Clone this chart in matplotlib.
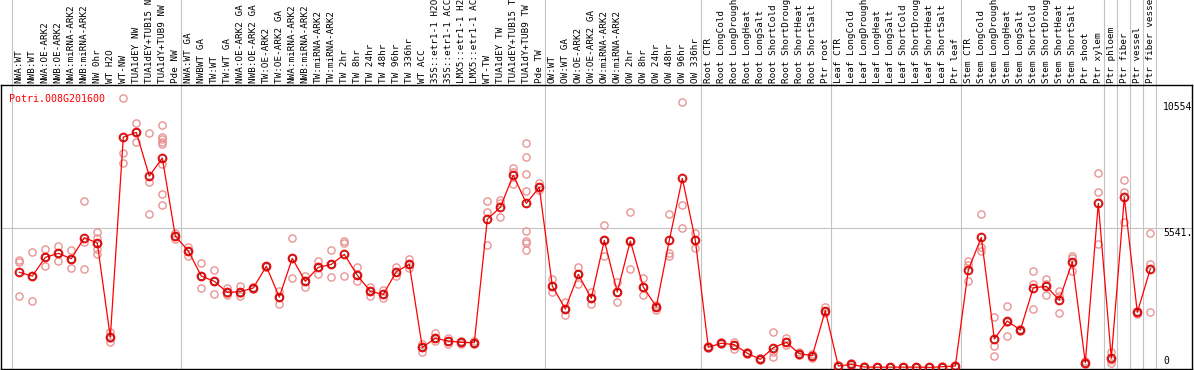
import matplotlib
matplotlib.use("Agg")
import matplotlib.pyplot as plt
import matplotlib.transforms as mtransforms

gene = "Potri.008G201600"

samples = [
    "NWA:WT", "NWB:WT", "NWA:OE-ARK2", "NWB:OE-ARK2", "NWA:miRNA-ARK2", "NWB:miRNA-ARK2",
    "NW 0hr", "WT H2O", "WT-NW", "TUA1dEY NW", "TUA1dEY+TUB15 NW", "TUA1dY+TUB9 NW", "Pde NW",
    "NWA:WT GA", "NWBWT GA", "TW:WT", "TW:WT GA", "NWA:OE-ARK2 GA", "NWB:OE-ARK2 GA",
    "TW:OE-ARK2", "TW:OE-ARK2 GA", "NWA:miRNA-ARK2", "NWB:miRNA-ARK2", "TW:miRNA-ARK2",
    "TW:miRNA-ARK2", "TW 2hr", "TW 8hr", "TW 24hr", "TW 48hr", "TW 96hr", "TW 336hr",
    "WT ACC", "35S::etr1-1 H2O", "35S::etr1-1 ACC", "LMX5::etr1-1 H2O", "LMX5::etr1-1 ACC",
    "WT-TW", "TUA1dEY TW", "TUA1dEY+TUB15 TW", "TUA1dY+TUB9 TW", "Pde TW",
    "OW:WT", "OW:WT GA", "OW:OE-ARK2", "OW:OE-ARK2 GA", "OW:miRNA-ARK2", "OW:miRNA-ARK2",
    "OW 2hr", "OW 8hr", "OW 24hr", "OW 48hr", "OW 96hr", "OW 336hr",
    "Root CTR", "Root LongCold", "Root LongDrought", "Root LongHeat", "Root LongSalt",
    "Root ShortCold", "Root ShortDrought", "Root ShortHeat", "Root ShortSalt", "Ptr root",
    "Leaf CTR", "Leaf LongCold", "Leaf LongDrought", "Leaf LongHeat", "Leaf LongSalt",
    "Leaf ShortCold", "Leaf ShortDrought", "Leaf ShortHeat", "Leaf ShortSalt", "Ptr leaf",
    "Stem CTR", "Stem LongCold", "Stem LongDrought", "Stem LongHeat", "Stem LongSalt",
    "Stem ShortCold", "Stem ShortDrought", "Stem ShortHeat", "Stem ShortSalt",
    "Ptr shoot", "Ptr xylem", "Ptr phloem", "Ptr fiber", "Ptr vessel", "Ptr fiber vessel",
]

means = [
    3790, 3640, 4385, 4545, 4330, 5170, 4955, 1200, 9170, 9360, 7620, 8340, 5235,
    4640, 3640, 3430, 2990, 3020, 3165, 4030, 2805, 4345, 3430, 3985, 4105, 4505,
    3670, 3030, 2910, 3815, 4105, 800, 1160, 1055, 1000, 990, 5900, 6375, 7660,
    6535, 7170,
    3245, 2330, 3710, 2755, 5060, 3005, 5035, 3205, 2420, 5060, 7530, 5075,
    805, 965, 910, 565, 325, 790, 1000, 550, 470, 2260,
    60, 125, 20, 10, 15, 15, 15, 5, 30, 60,
    3880, 5180, 1135, 1850, 1490, 3175, 3230, 2685, 4210, 190,
    6535, 365, 6775, 2195, 3920,
]

replicates = [
    [4280, 4190, 2850], [4600, 3640, 2630], [4715, 4385, 4050], [4835, 4545, 4250],
    [4675, 4330, 3960], [6615, 5010, 3920], [5405, 5165, 4940, 4715, 4505],
    [1425, 1160, 1030], [10715, 8525, 8150], [9720, 9385, 8965], [9320, 7395, 6095],
    [9640, 9185, 9080, 8985, 8895, 8085, 6895, 6455], [5340, 5235, 5100],
    [4810, 4640, 4450], [4145, 3640, 3160], [3880, 3430, 2910], [3150, 2950, 2885],
    [3245, 2960, 2845], [3190, 3165, 3140], [4060, 4030, 4000], [3060, 2805, 2540],
    [5140, 4345, 3550], [3655, 3430, 3215], [4240, 3985, 3735], [4665, 4105, 3590],
    [5050, 4970, 3630], [4000, 3670, 3430], [3215, 3030, 2845], [3085, 2910, 2780],
    [4015, 3815, 3655], [4320, 4105, 3945], [920, 800, 630], [1360, 1160, 1055],
    [1160, 1055, 920], [1055, 1000, 950], [1055, 990, 920], [6640, 6175, 4865],
    [6665, 6535, 5980], [7930, 7795, 7290],
    [8925, 8365, 7690, 7025, 5435, 5035, 4970, 4675], [7355, 7170, 7065],
    [3520, 3245, 2990], [2595, 2330, 2090], [4015, 3710, 3325], [3020, 2755, 2515],
    [5660, 5060, 4440], [3390, 3005, 2595], [6175, 5035, 3920], [3550, 3205, 2885],
    [2490, 2420, 2290], [6095, 4545, 4450], [10555, 6470, 5540], [5340, 5075, 4745],
    [850, 805, 780], [1000, 965, 930], [1030, 910, 725], [610, 565, 520],
    [360, 325, 290], [1425, 630, 405], [1160, 1000, 895], [620, 550, 480],
    [550, 470, 390], [2420, 2260, 2155],
    [90, 60, 40], [190, 125, 60], [40, 20, 5], [20, 10, 0], [25, 15, 5], [25, 15, 5],
    [25, 15, 5], [10, 5, 0], [50, 30, 10], [90, 60, 30],
    [4250, 4080, 3445], [6095, 4810, 4635], [2010, 870, 460], [2450, 1825, 1255],
    [1520, 1490, 1465], [3840, 3325, 2330], [3520, 3335, 2885], [3060, 2860, 2155],
    [4450, 4345, 3840], [250, 190, 130],
    [7730, 6995, 4905], [630, 300, 165], [7450, 6995, 5780], [2260, 2195, 2130],
    [5340, 4120, 2195],
]

# columns where a new group starts (grey separators)
group_starts = [0, 13, 41, 53, 63, 73, 84, 85, 86, 87, 88]
y_max_label = 10554
y_mid_label = "5541.5"
y_mid = 5541

plt.rcParams["font.family"] = "DejaVu Sans Mono"

W, H = 1194, 370
fig = plt.figure(figsize=(W / 100, H / 100), dpi=100)
ax = fig.add_axes([1 / W, 1 / H, 1191 / W, 284 / H])
ax.set_xlim(-1.408, 90.207)
ax.set_ylim(-60, 11246)
ax.set_xticks([])
ax.set_yticks([])
for sp in ax.spines.values():
    sp.set_linewidth(1.0)
    sp.set_color("black")

grey = "#c4c4c4"
ax.axhline(y_mid, color=grey, lw=0.8, zorder=1)
for g in group_starts:
    ax.axvline(g - 0.6, ymin=0, ymax=369 / 284, color=grey, lw=0.8, clip_on=False, zorder=1)

xs = list(range(len(samples)))
for i, reps in enumerate(replicates):
    ax.plot([i] * len(reps), reps, ls="none", marker="o", ms=5.2, mfc="none",
            mec="#e99494", mew=1.0, zorder=2)

ax.plot(xs, means, color="red", lw=0.9, zorder=3)
ax.plot(xs, means, ls="none", marker="o", ms=6.0, mfc="none", mec="red", mew=1.0, zorder=4)
ax.plot(xs, means, ls="none", marker="o", ms=4.6, mfc="none", mec="#500000", mew=0.4, zorder=5)

trans = mtransforms.blended_transform_factory(ax.transData, ax.transAxes)
for i, lab in enumerate(samples):
    ax.text(i, 1.007, lab, rotation=90, ha="center", va="bottom", fontsize=6.7,
            transform=trans, clip_on=False)

ax.text(8.3 / 1191, 1 - 8.5 / 284, gene, color="red", fontsize=7.2, ha="left", va="top",
        transform=ax.transAxes)

xr = (1163 - 1) / 1191
ytrans = mtransforms.blended_transform_factory(ax.transAxes, ax.transData)
ax.text(xr, y_max_label, str(y_max_label), fontsize=7, ha="left", va="top",
        clip_on=True, transform=ytrans)
ax.text(xr, y_mid, y_mid_label, fontsize=7, ha="left", va="top", clip_on=True,
        transform=ytrans)
ax.text(xr, 3 / 284, "0", fontsize=7, ha="left", va="bottom", transform=ax.transAxes)

fig.savefig("out.png", dpi=100)
